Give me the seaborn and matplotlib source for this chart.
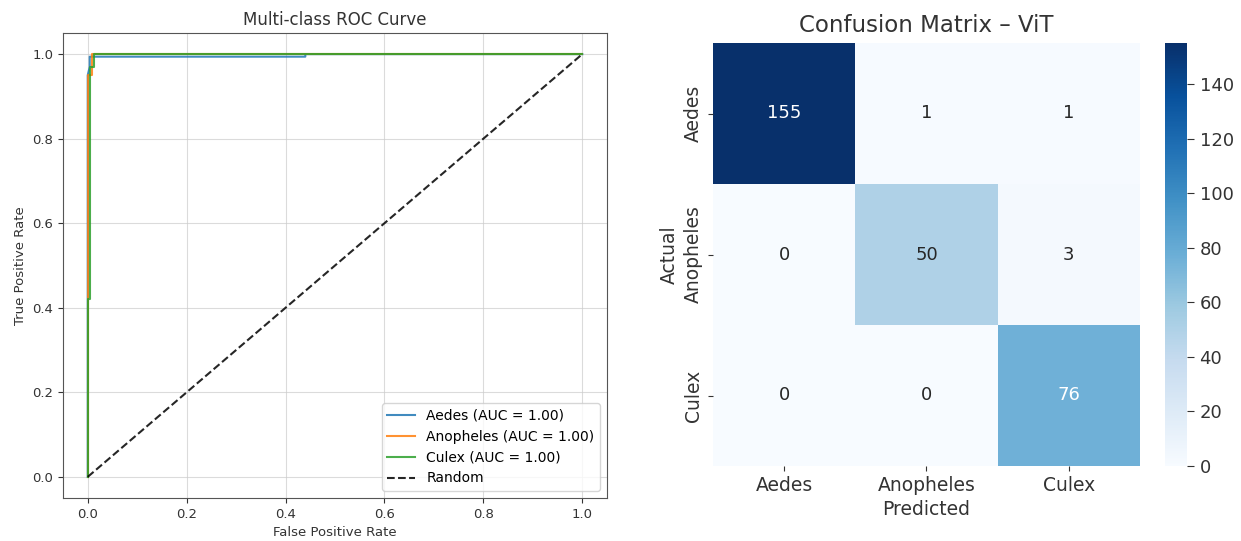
# ROC curves + confusion matrix (ViT)

import pandas as pd
import matplotlib
matplotlib.use("Agg")
import matplotlib.pyplot as plt
import seaborn as sns

# Data
classes = ["Aedes", "Anopheles", "Culex"]
auc_values = [1.00, 1.00, 1.00]

aedes_fpr = [0.0, 0.0, 0.004, 0.004, 0.44, 0.44, 1.0]
aedes_tpr = [0.0, 0.95, 0.97, 0.994, 0.994, 1.0, 1.0]

anopheles_fpr = [0.0, 0.0, 0.008, 0.008, 1.0]
anopheles_tpr = [0.0, 0.95, 0.95, 1.0, 1.0]

culex_fpr = [0.0, 0.0, 0.005, 0.005, 0.012, 0.012, 1.0]
culex_tpr = [0.0, 0.42, 0.42, 0.97, 0.97, 1.0, 1.0]

roc_fpr = [aedes_fpr, anopheles_fpr, culex_fpr]
roc_tpr = [aedes_tpr, anopheles_tpr, culex_tpr]

cm = [[155, 1, 1],
      [0, 50, 3],
      [0, 0, 76]]

colors = ["#1f77b4", "#ff7f0e", "#2ca02c"]

fig = plt.figure(figsize=(12.41, 5.41), dpi=100)

# ROC curve
ax1 = fig.add_axes([63/1241, 43/541, 544/1241, 465/541])
for i, name in enumerate(classes):
    sns.lineplot(x=roc_fpr[i], y=roc_tpr[i], ax=ax1, color=colors[i], lw=1.5,
                 estimator=None, sort=False, alpha=0.85,
                 label=f"{name} (AUC = {auc_values[i]:.2f})")
ax1.plot([0, 1], [0, 1], "k--", lw=1.5, label="Random", alpha=0.85)
ax1.set_xlim(-0.05, 1.05)
ax1.set_ylim(-0.05, 1.05)
ax1.set_title("Multi-class ROC Curve", fontsize=12, color="#333333")
ax1.set_xlabel("False Positive Rate", fontsize=9.5, color="#333333")
ax1.set_ylabel("True Positive Rate", fontsize=9.5, color="#333333")
ax1.tick_params(labelsize=9.5, colors="#333333")
ax1.grid(True, color="#cccccc", alpha=0.7)
ax1.legend(loc="lower right", fontsize=10)
for s in ax1.spines.values():
    s.set_color("#555555")

# Confusion matrix
ax2 = fig.add_axes([713/1241, 75/541, 427/1241, 423/541])
cax = fig.add_axes([1165/1241, 75/541, 22/1241, 423/541])
df_cm = pd.DataFrame(cm, index=classes, columns=classes)
sns.heatmap(df_cm, annot=True, fmt="d", cmap="Blues", ax=ax2, cbar_ax=cax,
            annot_kws={"fontsize": 13})
ax2.set_title("Confusion Matrix – ViT", fontsize=16.5, color="#333333", pad=8)
ax2.set_xlabel("Predicted", fontsize=13.5, color="#333333")
ax2.set_ylabel("Actual", fontsize=13.5, color="#333333")
ax2.tick_params(labelsize=13.5, colors="#333333")
plt.setp(ax2.get_yticklabels(), rotation=90, va="center")
cax.tick_params(labelsize=13, colors="#333333", length=5, pad=4)
cax.set_yticks([0, 20, 40, 60, 80, 100, 120, 140])

plt.savefig("out.png", dpi=100)
